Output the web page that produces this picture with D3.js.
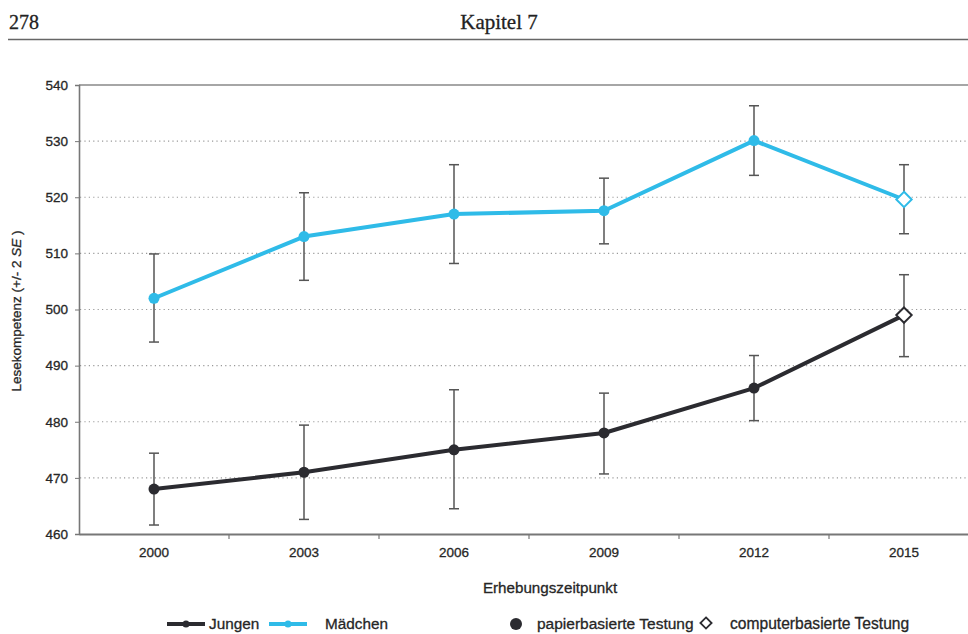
<!DOCTYPE html>
<html><head><meta charset="utf-8">
<script src="https://cdn.jsdelivr.net/npm/d3@7"></script>
<style>
html,body{margin:0;padding:0;background:#fff;}
svg{display:block;}
</style></head>
<body>
<svg id="chart" width="968" height="634"></svg>
<script>
// ---- data ----
const years = ["2000", "2003", "2006", "2009", "2012", "2015"];
const jungen = [468, 471, 475, 478, 486, 499];
const jungenLow = [461.6, 462.6, 464.5, 470.7, 480.2, 491.6];
const jungenHigh = [474.4, 479.4, 485.7, 485.1, 491.8, 506.2];
const maedchen = [502, 513, 517, 517.6, 530.1, 519.6];
const maedchenLow = [494.2, 505.2, 508.2, 511.7, 523.9, 513.5];
const maedchenHigh = [509.9, 520.8, 525.8, 523.4, 536.3, 525.8];
const testMode = ["papier", "papier", "papier", "papier", "papier", "computer"];
const yTicks = [460, 470, 480, 490, 500, 510, 520, 530, 540];
const seriesNames = ["Jungen", "Mädchen"];
const modeNames = ["papierbasierte Testung", "computerbasierte Testung"];

const COL_J = "#2b2b30", COL_M = "#2fbbe8", COL_ERR = "#555", COL_TXT = "#262626";
const svg = d3.select("#chart");
const FONT = "Arial, 'Liberation Sans', sans-serif";
const SERIF = "'Liberation Serif', 'DejaVu Serif', serif";
const thicken = sel => sel.attr("stroke", COL_TXT).attr("stroke-width", 0.3);

// header
svg.append("text").attr("x", 9).attr("y", 29).attr("font-family", SERIF)
  .attr("font-size", 20).attr("fill", "#222").attr("stroke", "#222").attr("stroke-width", 0.3).text("278");
svg.append("text").attr("x", 499).attr("y", 29).attr("text-anchor", "middle")
  .attr("font-family", SERIF).attr("font-size", 21).attr("fill", "#222").attr("stroke", "#222").attr("stroke-width", 0.3).text("Kapitel 7");
svg.append("line").attr("x1", 8).attr("x2", 968).attr("y1", 39.5).attr("y2", 39.5)
  .attr("stroke", "#666").attr("stroke-width", 1.6);

// scales
const x = d3.scaleBand().domain(years).range([79, 979]).padding(0);
const y = d3.scaleLinear().domain([460, 540]).range([534, 85]);
const cx = d => x(d) + x.bandwidth() / 2;

// grid
svg.append("g").selectAll("line").data(yTicks.filter(t => t > 460 && t < 540)).join("line")
  .attr("x1", 80).attr("x2", 979).attr("y1", d => y(d)).attr("y2", d => y(d))
  .attr("stroke", "#999").attr("stroke-width", 1.2).attr("stroke-dasharray", "1.2,3.2");
// top border
svg.append("line").attr("x1", 79).attr("x2", 979).attr("y1", y(540)).attr("y2", y(540))
  .attr("stroke", "#888").attr("stroke-width", 1.6);

// y axis
const yAxis = svg.append("g").attr("transform", "translate(79,0)")
  .call(d3.axisLeft(y).tickValues(yTicks).tickSize(4).tickPadding(7).tickFormat(d3.format("d")));
yAxis.select(".domain").attr("stroke", "#777").attr("stroke-width", 1.6);
yAxis.selectAll(".tick line").attr("stroke", "#777");
yAxis.selectAll("text").attr("font-family", FONT).attr("font-size", 13.5).attr("fill", COL_TXT).call(thicken);

// x axis
const xAxis = svg.append("g").attr("transform", "translate(0,534)")
  .call(d3.axisBottom(x).tickSize(0).tickPadding(13));
xAxis.select(".domain").attr("stroke", "#777").attr("stroke-width", 1.8);
xAxis.selectAll("text").attr("font-family", FONT).attr("font-size", 13.5).attr("fill", COL_TXT).call(thicken);
// separators between categories
svg.append("g").selectAll("line").data(years.slice(1)).join("line")
  .attr("x1", d => x(d)).attr("x2", d => x(d)).attr("y1", 534).attr("y2", 539)
  .attr("stroke", "#777").attr("stroke-width", 1.2);

// axis titles
svg.append("text").attr("x", 550).attr("y", 593).attr("text-anchor", "middle")
  .attr("font-family", FONT).attr("font-size", 15.2).attr("fill", COL_TXT).call(thicken).text("Erhebungszeitpunkt");
const yt = svg.append("text").attr("transform", "translate(21,311) rotate(-90)").attr("text-anchor", "middle")
  .attr("font-family", FONT).attr("font-size", 13.5).attr("fill", COL_TXT).call(thicken);
yt.append("tspan").text("Lesekompetenz (+/- 2 ");
yt.append("tspan").attr("font-style", "italic").text("SE");
yt.append("tspan").text(" )");

// series
const series = [
  {name: seriesNames[0], v: jungen, lo: jungenLow, hi: jungenHigh, col: COL_J},
  {name: seriesNames[1], v: maedchen, lo: maedchenLow, hi: maedchenHigh, col: COL_M}
];

// error bars
series.forEach(s => {
  const g = svg.append("g").attr("stroke", COL_ERR).attr("stroke-width", 1.5);
  years.forEach((yr, i) => {
    g.append("line").attr("x1", cx(yr)).attr("x2", cx(yr)).attr("y1", y(s.lo[i])).attr("y2", y(s.hi[i]));
    g.append("line").attr("x1", cx(yr) - 5).attr("x2", cx(yr) + 5).attr("y1", y(s.lo[i])).attr("y2", y(s.lo[i]));
    g.append("line").attr("x1", cx(yr) - 5).attr("x2", cx(yr) + 5).attr("y1", y(s.hi[i])).attr("y2", y(s.hi[i]));
  });
});

// lines
const line = d3.line().x((d, i) => cx(years[i])).y(d => y(d));
series.forEach(s => {
  svg.append("path").attr("d", line(s.v)).attr("fill", "none").attr("stroke", s.col)
    .attr("stroke-width", 4).attr("stroke-linejoin", "round");
});

// markers
const diamond = d3.symbol().type(d3.symbolDiamond2).size(150);
series.forEach(s => {
  years.forEach((yr, i) => {
    if (testMode[i] === "papier") {
      svg.append("circle").attr("cx", cx(yr)).attr("cy", y(s.v[i])).attr("r", 5.5).attr("fill", s.col);
    } else {
      svg.append("path").attr("d", diamond()).attr("transform", `translate(${cx(yr)},${y(s.v[i])})`)
        .attr("fill", "#fff").attr("stroke", s.col).attr("stroke-width", 2);
    }
  });
});

// legend
const LY = 624;
const lg = svg.append("g");
[[167, 205, 209, COL_J, seriesNames[0]], [269, 307, 325, COL_M, seriesNames[1]]].forEach(([a, b, t, c, n]) => {
  lg.append("line").attr("x1", a).attr("x2", b).attr("y1", LY).attr("y2", LY).attr("stroke", c).attr("stroke-width", 4);
  lg.append("circle").attr("cx", (a + b) / 2).attr("cy", LY).attr("r", 3.5).attr("fill", c);
  lg.append("text").attr("x", t).attr("y", LY + 5).attr("font-family", FONT).attr("font-size", 15.3).attr("fill", COL_TXT).call(thicken).text(n);
});
lg.append("circle").attr("cx", 516).attr("cy", LY).attr("r", 6).attr("fill", COL_J);
lg.append("text").attr("x", 537).attr("y", LY + 5).attr("font-family", FONT).attr("font-size", 15.5).attr("fill", COL_TXT).call(thicken).text(modeNames[0]);
lg.append("path").attr("d", d3.symbol().type(d3.symbolDiamond2).size(80)()).attr("transform", `translate(706,${LY - 1})`)
  .attr("fill", "#fff").attr("stroke", COL_J).attr("stroke-width", 1.8);
lg.append("text").attr("x", 730).attr("y", LY + 5).attr("font-family", FONT).attr("font-size", 15.6).attr("fill", COL_TXT).call(thicken).text(modeNames[1]);
</script>
</body></html>
